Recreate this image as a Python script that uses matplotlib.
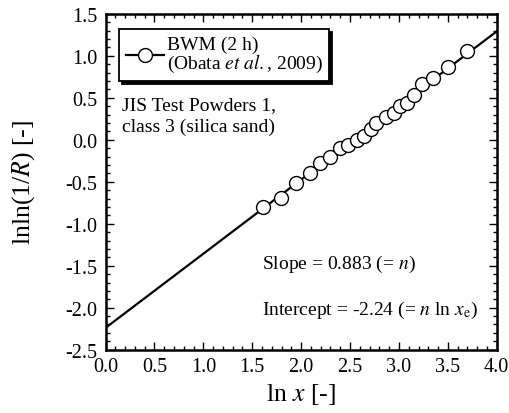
import matplotlib
matplotlib.use("Agg")
import matplotlib.pyplot as plt
from matplotlib.ticker import MultipleLocator, FormatStrFormatter

plt.rcParams['font.family'] = ['Liberation Serif', 'DejaVu Serif']
plt.rcParams['mathtext.fontset'] = 'stix'
plt.rcParams['axes.unicode_minus'] = False

# data (ln x, lnln(1/R))
ln_x = [1.61, 1.79, 1.95, 2.09, 2.19, 2.30, 2.40, 2.475, 2.57, 2.64, 2.71,
        2.765, 2.865, 2.95, 3.01, 3.085, 3.15, 3.24, 3.35, 3.50, 3.70]
lnln_R = [-0.80, -0.69, -0.52, -0.40, -0.28, -0.20, -0.10, -0.06, 0.00, 0.05, 0.13,
          0.195, 0.275, 0.325, 0.40, 0.44, 0.53, 0.67, 0.735, 0.865, 1.055]

# fitted line
slope = 0.883
intercept = -2.24
fit_x = [0.0, 4.0]
fit_y = [slope * v + intercept for v in fit_x]

fig = plt.figure(figsize=(5.1, 4.14), dpi=100)
ax = fig.add_axes([0.207, 0.153, 0.767, 0.811])

ax.plot(fit_x, fit_y, color='black', lw=1.6, zorder=2)
ax.plot(ln_x, lnln_R, linestyle='none', marker='o', ms=10, mfc='white',
        mec='black', mew=1.0, zorder=3)

# legend entry (line + marker)
ax.plot([], [], color='black', lw=1.6, marker='o', ms=10, mfc='white', mec='black',
        mew=1.0, label='BWM (2 h)\n(Obata $et\\ al.$, 2009)')
leg = ax.legend(loc='upper left', bbox_to_anchor=(0.034, 0.955), borderaxespad=0,
                fontsize=14, frameon=True, fancybox=False,
                shadow={'color': 'black', 'alpha': 1, 'ox': 2.2, 'oy': -2.2},
                handlelength=1.95, handletextpad=0.15, borderpad=0.35)
leg.get_frame().set_edgecolor('black')
leg.get_frame().set_linewidth(1.3)
for t in leg.get_texts():
    t.set_linespacing(0.95)

ax.text(0.17, 0.37, 'JIS Test Powders 1,', fontsize=14, va='baseline', ha='left')
ax.text(0.17, 0.10, 'class 3 (silica sand)', fontsize=14, va='baseline', ha='left')
ax.text(1.6, -1.53, 'Slope = 0.883 (= $n$)', fontsize=14, va='baseline', ha='left')
ax.text(1.6, -2.08, 'Intercept = -2.24 (= $n$ ln $x_{\\mathrm{e}}$)', fontsize=14,
        va='baseline', ha='left')

ax.set_xlim(0, 4.0)
ax.set_ylim(-2.5, 1.5)
ax.xaxis.set_major_locator(MultipleLocator(0.5))
ax.xaxis.set_minor_locator(MultipleLocator(0.1))
ax.yaxis.set_major_locator(MultipleLocator(0.5))
ax.yaxis.set_minor_locator(MultipleLocator(0.1))
ax.xaxis.set_major_formatter(FormatStrFormatter('%.1f'))
ax.yaxis.set_major_formatter(FormatStrFormatter('%.1f'))
ax.tick_params(which='both', direction='in', top=True, right=True, labelsize=14.5,
               width=1.0)
ax.tick_params(which='major', length=6)
ax.tick_params(which='minor', length=3)
ax.tick_params(axis='x', which='major', pad=5)
ax.tick_params(axis='y', which='major', pad=6)
for s in ax.spines.values():
    s.set_linewidth(1.8)

ax.set_xlabel('ln $x$ [-]', fontsize=18.5, labelpad=4)
ax.set_ylabel('lnln(1/$R$) [-]', fontsize=18.5)
ax.yaxis.set_label_coords(-0.175, 0.5)

fig.savefig('out.png', dpi=100)
